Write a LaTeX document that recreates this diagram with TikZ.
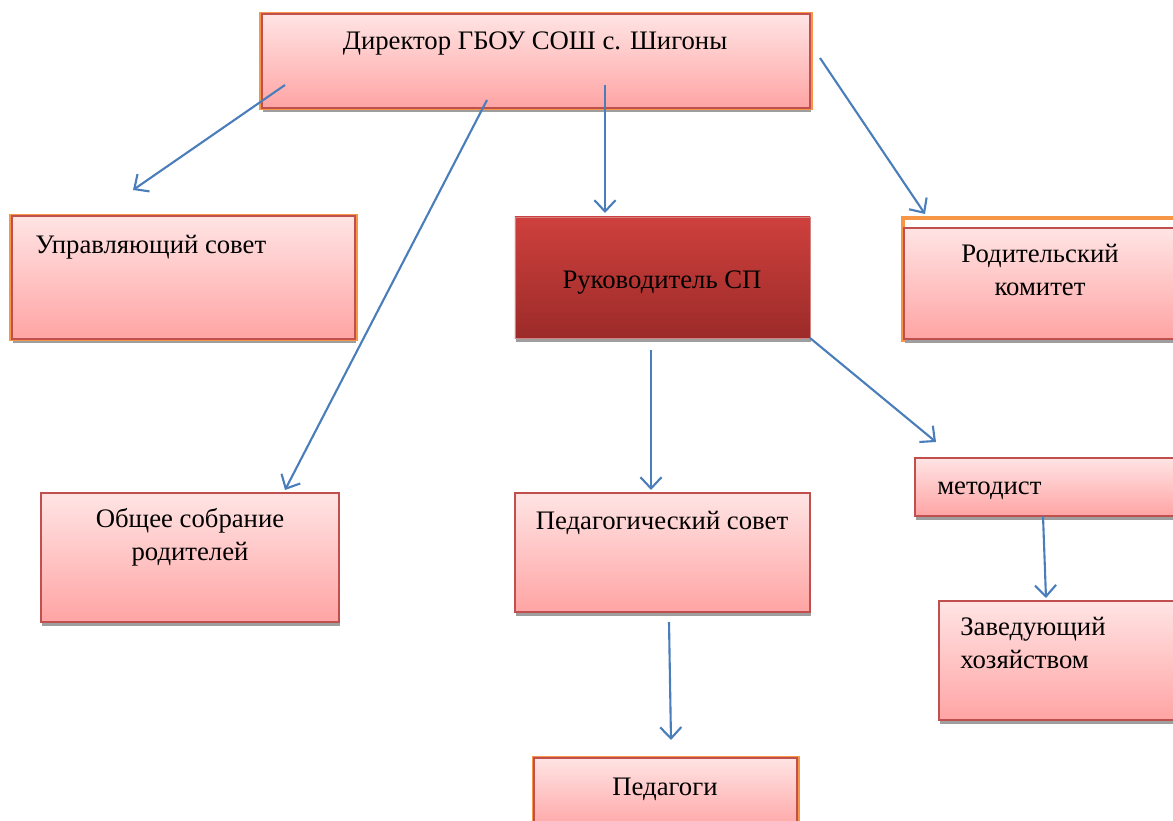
\documentclass[tikz,border=0pt]{standalone}
\usepackage{fontspec}
\setmainfont{Liberation Serif}
\usetikzlibrary{arrows.meta,shadows}
\definecolor{boxred}{HTML}{C0504D}
\definecolor{boxorange}{HTML}{F79646}
\definecolor{pinktop}{HTML}{FFE4E4}
\definecolor{pinkbot}{HTML}{FFA4A4}
\definecolor{darktop}{HTML}{CE403D}
\definecolor{darkbot}{HTML}{9C2B29}
\definecolor{arrowblue}{HTML}{4A7EBB}
\tikzset{>/.tip={Straight Barb[length=8pt,width=15pt]}}

\begin{document}
\begin{tikzpicture}[x=0.025cm, y=-0.025cm,
  pinkbox/.style={rectangle, draw=boxred, line width=1.3pt, inner sep=0pt,
    top color=pinktop, bottom color=pinkbot,
    drop shadow={shadow xshift=1pt, shadow yshift=-3pt, fill=black!38, opacity=1}},
  darkbox/.style={pinkbox, draw=boxred!70, line width=0.6pt, top color=darktop, bottom color=darkbot},
  orangeedge/.style={preaction={draw=boxorange, line width=3.5pt}},
  txt/.style={font=\fontsize{19}{23}\selectfont, inner sep=0pt, align=center},
  link/.style={->, draw=arrowblue, line width=1.5pt}]
\useasboundingbox (0,0) rectangle (1173,821);
\clip (0,0) rectangle (1173,821);

% boxes
\node[pinkbox, orangeedge, minimum width=13.7cm, minimum height=2.35cm] (dir) at (536,61) {};
\node[pinkbox, orangeedge, minimum width=8.575cm, minimum height=3.075cm] (upr) at (183.5,277.5) {};
\node[darkbox, minimum width=7.375cm, minimum height=3.025cm] (ruk) at (662.5,277.5) {};
\draw[boxorange, line width=3pt, fill=white] (903,218) rectangle (1180,340);
\node[pinkbox, minimum width=6.8cm, minimum height=2.775cm] (rod) at (1040,283.5) {};
\node[pinkbox, minimum width=7.45cm, minimum height=3.225cm] (obs) at (190,557.5) {};
\node[pinkbox, minimum width=7.375cm, minimum height=2.975cm] (ped) at (662.5,552.5) {};
\node[pinkbox, minimum width=6.625cm, minimum height=1.45cm] (met) at (1047.5,487) {};
\node[pinkbox, minimum width=6.025cm, minimum height=2.975cm] (zav) at (1059.5,660.5) {};
\node[pinkbox, orangeedge, minimum width=6.575cm, minimum height=1.8cm] (pedg) at (665.5,794) {};

% texts (base = last line)
\node[txt, anchor=base] (dirtxt) at (535,50) {Директор ГБОУ СОШ с. Шигоны};
\node[txt, anchor=base west] (uprtxt) at (35,253) {Управляющий совет};
\node[txt, anchor=base] (ruktxt) at (662,288) {Руководитель СП};
\node[txt, anchor=base] (rodtxt) at (1040,295) {Родительский\\комитет};
\node[txt, anchor=base] (obstxt) at (190,560) {Общее собрание\\родителей};
\node[txt, anchor=base] (pedtxt) at (662,529) {Педагогический совет};
\node[txt, anchor=base west] (mettxt) at (937,494) {методист};
\node[txt, anchor=base west, align=left] (zavtxt) at (960,668) {Заведующий\\хозяйством};
\node[txt, anchor=base] (pedgtxt) at (665,795) {Педагоги};

% arrow ends
\coordinate (d1) at (285,85);   \coordinate (u1) at (133,190);
\coordinate (d2) at (487,100);  \coordinate (o1) at (285,490);
\coordinate (d3) at (605,85);   \coordinate (r1) at (605,213);
\coordinate (d4) at (820,58);   \coordinate (k1) at (925,214);
\coordinate (r2) at (810,338);  \coordinate (m1) at (936,442);
\coordinate (r3) at (651,350);  \coordinate (p1) at (651,490);
\coordinate (m2) at (1043,516); \coordinate (z1) at (1046,598);
\coordinate (p2) at (669,622);  \coordinate (g1) at (671,740);

\draw[link] (d1) -- (u1);
\draw[link] (d2) -- (o1);
\draw[link] (d3) -- (r1);
\draw[link] (d4) -- (k1);
\draw[link] (r2) -- (m1);
\draw[link] (r3) -- (p1);
\draw[link] (m2) -- (z1);
\draw[link] (p2) -- (g1);
\end{tikzpicture}
\end{document}
